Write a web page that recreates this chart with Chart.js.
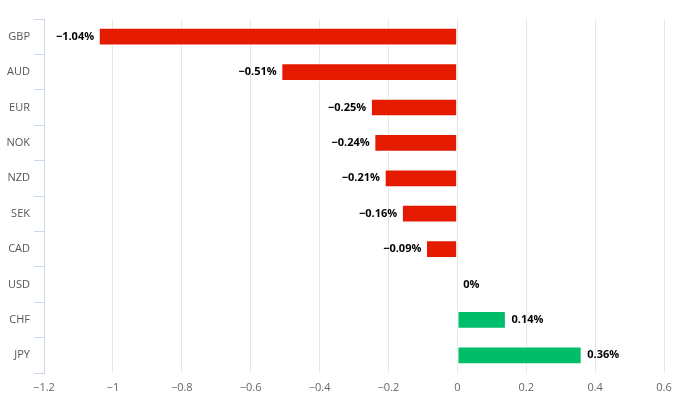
<!DOCTYPE html>
<html>
<head>
<meta charset="utf-8">
<script src="https://cdn.jsdelivr.net/npm/chart.js@4"></script>
<style>
  html, body { margin: 0; padding: 0; background: #fff; }
  #wrap { width: 682px; height: 407px; }
</style>
</head>
<body>
<div id="wrap"><canvas id="chart"></canvas></div>
<script>
const currencies = ["GBP", "AUD", "EUR", "NOK", "NZD", "SEK", "CAD", "USD", "CHF", "JPY"];
const changes = [-1.04, -0.51, -0.25, -0.24, -0.21, -0.16, -0.09, 0, 0.14, 0.36];
const xTicks = [-1.2, -1, -0.8, -0.6, -0.4, -0.2, 0, 0.2, 0.4, 0.6];

const RED = "#e41b00";
const GREEN = "#00bd6c";
const fontFamily = "'Open Sans', 'DejaVu Sans', sans-serif";

const minus = (s) => s.replace("-", "\u2212");

// etiquetas de valor al final de cada barra
const barLabels = {
  id: "barLabels",
  afterDatasetsDraw(chart) {
    const ctx = chart.ctx;
    const meta = chart.getDatasetMeta(0);
    const x0 = chart.scales.x.getPixelForValue(0);
    ctx.save();
    ctx.font = "bold 11px " + fontFamily;
    ctx.textBaseline = "middle";
    ctx.fillStyle = "#000";
    meta.data.forEach((bar, i) => {
      const v = changes[i];
      const txt = minus(String(v)) + "%";
      if (v < 0) {
        ctx.textAlign = "right";
        ctx.fillText(txt, bar.x - 5, bar.y);
      } else {
        ctx.textAlign = "left";
        ctx.fillText(txt, Math.max(bar.x, x0) + 6, bar.y);
      }
    });
    ctx.restore();
  }
};

new Chart(document.getElementById("chart"), {
  type: "bar",
  data: {
    labels: currencies,
    datasets: [{
      data: changes,
      backgroundColor: changes.map(v => v < 0 ? RED : GREEN),
      borderColor: "#fff",
      borderWidth: 1,
      borderSkipped: false,
      barThickness: 17
    }]
  },
  options: {
    indexAxis: "y",
    responsive: true,
    maintainAspectRatio: false,
    animation: false,
    layout: { padding: { top: 19, right: 18, left: 0, bottom: 0 } },
    plugins: {
      legend: { display: false },
      tooltip: { enabled: false }
    },
    scales: {
      x: {
        min: -1.2,
        max: 0.6,
        afterBuildTicks: (scale) => { scale.ticks = xTicks.map(v => ({ value: v })); },
        afterFit: (scale) => { scale.height = 34; },
        grid: { color: "#e6e6e6", drawTicks: false },
        border: { display: false },
        ticks: {
          padding: 8,
          color: "#666",
          font: { size: 11, family: fontFamily },
          callback: (v) => minus(String(Math.round(v * 10) / 10))
        }
      },
      y: {
        afterFit: (scale) => { scale.width = 44; },
        grid: { offset: true, drawOnChartArea: false, drawTicks: true, tickLength: 10, color: "#ccd6eb" },
        border: { display: true, color: "#ccd6eb" },
        ticks: {
          padding: 4,
          color: "#555",
          font: { size: 11, family: fontFamily }
        }
      }
    }
  },
  plugins: [barLabels]
});
</script>
</body>
</html>
